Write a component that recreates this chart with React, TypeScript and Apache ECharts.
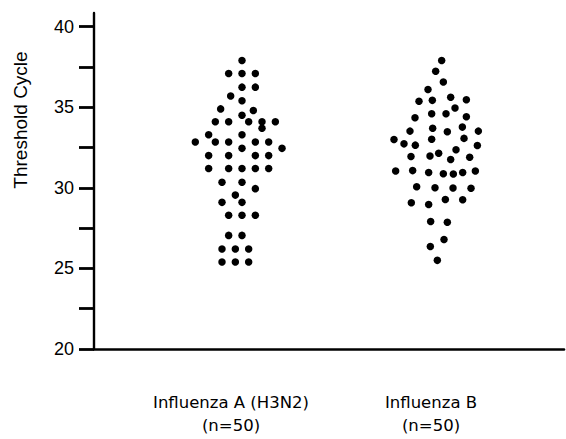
import React, { useEffect, useRef } from "react";
import * as echarts from "echarts";

// Category labels shown under the x axis
const categories = ["Influenza A (H3N2)\n(n=50)", "Influenza B\n(n=50)"];

// Y axis tick values
const yLabelValues = [20, 25, 30, 35, 40];
const yTickValues = [20, 22.5, 25, 27.5, 30, 32.5, 35, 37.5, 40];

// Dots: [column offset within the swarm (in dot steps), threshold cycle]
const influenzaA: [number, number][] = [
  [0, 37.9],
  [-2, 37.1], [0, 37.1], [2, 37.1],
  [0, 36.25], [2, 36.25],
  [-1.7, 35.7],
  [0, 35.4],
  [-3.2, 34.9],
  [1.7, 34.8],
  [0, 34.5],
  [-4, 34.1], [-2, 34.1], [1, 34.1], [3, 34.1], [5, 34.1],
  [3, 33.7],
  [-5, 33.3], [0, 33.3],
  [-7, 32.85], [-4, 32.85], [-2, 32.85], [2, 32.85], [4, 32.85],
  [0, 32.45], [6, 32.45],
  [-5, 32.0], [-2, 32.0], [2, 32.0], [4, 32.0],
  [-5, 31.2], [-2, 31.2], [0, 31.2], [2, 31.2], [4, 31.2],
  [-3, 30.35], [0, 30.35],
  [2, 29.95],
  [-1, 29.55],
  [-3, 29.1], [0, 29.1],
  [-2, 28.3], [0, 28.3], [2, 28.3],
  [-2, 27.05], [0, 27.05],
  [-3, 26.2], [-1, 26.2], [1, 26.2],
  [-3, 25.4], [-1, 25.4], [1, 25.4],
];

const influenzaB: [number, number][] = [
  [0.7, 37.9],
  [-0.2, 37.24],
  [0.95, 36.57],
  [-1.35, 36.1],
  [-2.7, 35.37], [-0.7, 35.43], [2.05, 35.62], [4.4, 35.47],
  [2.7, 34.95],
  [-3.3, 34.35], [-0.8, 34.6], [1.35, 34.6], [4.4, 34.41],
  [-4.05, 33.52], [-0.65, 33.7], [1.55, 33.48], [3.8, 33.77], [6.2, 33.52],
  [-6.45, 33.0], [-4.95, 32.73], [-3.25, 32.65], [-0.8, 33.02], [4.05, 33.07], [6.05, 32.63],
  [2.85, 32.36],
  [-3.9, 31.94], [-1.05, 31.98], [0.25, 32.15], [2.05, 31.76], [4.9, 31.9],
  [-6.2, 31.05], [-3.65, 31.07], [-1.25, 30.95], [0.95, 30.88], [2.45, 30.86], [3.85, 30.95], [5.75, 31.05],
  [-3.05, 30.07], [-0.3, 30.01], [2.4, 29.99], [5.1, 29.97],
  [-3.85, 29.08], [-1.25, 28.97], [1.25, 29.28], [3.85, 29.26],
  [-0.95, 27.91], [1.55, 27.87],
  [1.05, 26.79],
  [-1.0, 26.36],
  [0.05, 25.5],
];

const swarmCenters = [1.055, 2.03];
const dotStep = 0.03335;

export default function App() {
  const ref = useRef<HTMLDivElement>(null);

  useEffect(() => {
    if (!ref.current) return;
    const chart = echarts.init(ref.current, null, { renderer: "svg" });
    const toPoints = (arr: [number, number][], c: number) =>
      arr.map(([o, v]) => [c + o * dotStep, v]);

    chart.setOption({
      animation: false,
      backgroundColor: "#ffffff",
      grid: {
        left: 94,
        right: 2,
        top: 13,
        bottom: 90,
        containLabel: false,
        outerBoundsMode: "none",
      },
      xAxis: {
        type: "value",
        min: 0.315,
        max: 2.665,
        splitLine: { show: false },
        axisLine: { show: true, onZero: false, lineStyle: { color: "#000", width: 2.6 } },
        axisTick: { show: false },
        axisLabel: {
          customValues: [1, 2],
          formatter: (v: number) => categories[Math.round(v) - 1] ?? "",
          color: "#000",
          fontFamily: "DejaVu Sans",
          fontSize: 16.5,
          lineHeight: 23,
          margin: 42,
          align: "center",
        },
      },
      yAxis: {
        type: "value",
        min: 20,
        max: 40.85,
        splitLine: { show: false },
        axisLine: { show: true, lineStyle: { color: "#000", width: 2.4 } },
        axisTick: {
          show: true,
          customValues: yTickValues,
          length: 15,
          lineStyle: { color: "#000", width: 2.8 },
        },
        axisLabel: {
          customValues: yLabelValues,
          color: "#000",
          fontFamily: "Liberation Sans",
          fontSize: 18,
          margin: 20,
        },
      },
      graphic: [
        {
          type: "text",
          x: 20,
          y: 120,
          rotation: Math.PI / 2,
          style: {
            text: "Threshold Cycle",
            fill: "#000",
            font: "19px 'Liberation Sans'",
            textAlign: "center",
            textVerticalAlign: "middle",
          },
        },
      ],
      series: [
        {
          type: "scatter",
          name: "Influenza A (H3N2)",
          data: toPoints(influenzaA, swarmCenters[0]),
          symbol: "circle",
          symbolSize: 7.5,
          itemStyle: { color: "#000", opacity: 1 },
        },
        {
          type: "scatter",
          name: "Influenza B",
          data: toPoints(influenzaB, swarmCenters[1]),
          symbol: "circle",
          symbolSize: 7.5,
          itemStyle: { color: "#000", opacity: 1 },
        },
      ],
    });
    return () => chart.dispose();
  }, []);

  return (
    <div
      ref={ref}
      style={{ position: "fixed", left: 0, top: 0, width: 566, height: 439 }}
    />
  );
}
